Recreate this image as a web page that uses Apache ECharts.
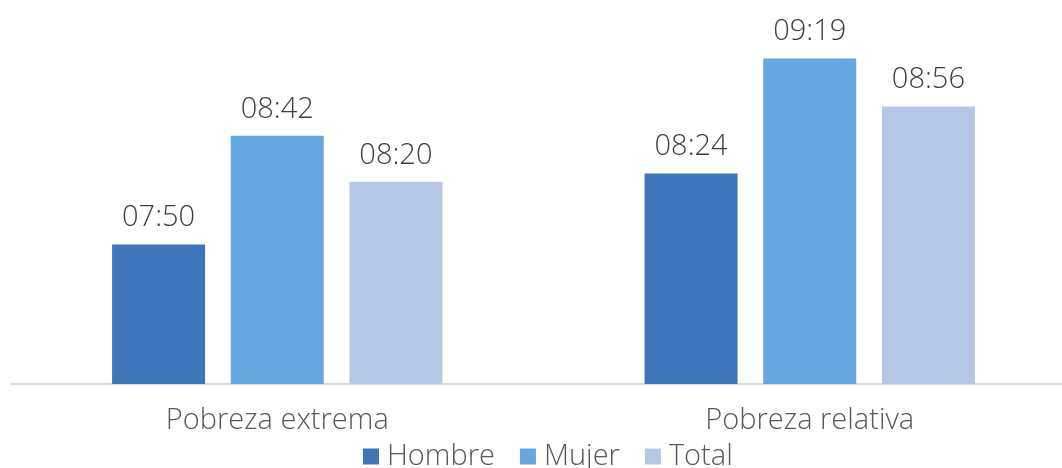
<!DOCTYPE html>
<html>
<head>
<meta charset="utf-8">
<script src="https://cdn.jsdelivr.net/npm/echarts@6/dist/echarts.min.js"></script>
<style>html,body{margin:0;padding:0;background:#fff}#c{width:1062px;height:468px}</style>
</head>
<body>
<div id="c"></div>
<script>
const categories = ['Pobreza extrema', 'Pobreza relativa'];
const seriesNames = ['Hombre', 'Mujer', 'Total'];
// durations in minutes (HH:MM)
const hombre = [470, 504];  // 07:50, 08:24
const mujer = [522, 559];   // 08:42, 09:19
const total = [500, 536];   // 08:20, 08:56
const colors = ['#3F76BA', '#66A7E1', '#B4C7E7'];

function fmt(m) {
  const h = Math.floor(m / 60), mm = Math.round(m - h * 60);
  return String(h).padStart(2, '0') + ':' + String(mm).padStart(2, '0');
}
const FONT = 'Open Sans';
const FS = 29;
const chart = echarts.init(document.getElementById('c'));
const mk = (name, data, i) => ({
  name, type: 'bar', data, barWidth: 93, barGap: '27.6%',
  itemStyle: { color: colors[i] },
  label: { show: true, position: 'top', distance: 12, color: '#404040', fontSize: FS, fontWeight: 300, fontFamily: FONT,
    formatter: p => fmt(p.value) }
});
chart.setOption({
  animation: false,
  textStyle: { fontFamily: FONT },
  grid: { left: 11, right: -14, top: 23, bottom: 84, containLabel: false, outerBoundsMode: 'none' },
  legend: {
    bottom: -8, left: 358, itemWidth: 16, itemHeight: 16, itemGap: 25,
    icon: 'rect', textStyle: { fontSize: FS, fontWeight: 300, color: '#595959', fontFamily: FONT, padding: [0, 0, 0, 3] },
    data: seriesNames
  },
  xAxis: {
    type: 'category', data: categories,
    axisLine: { lineStyle: { color: '#D9D9D9', width: 2 } },
    axisTick: { show: false },
    axisLabel: { fontSize: FS, fontWeight: 300, color: '#595959', margin: 22, fontFamily: FONT }
  },
  yAxis: {
    type: 'value', min: 403.2, max: 576, show: false, splitLine: { show: false }
  },
  series: [mk(seriesNames[0], hombre, 0), mk(seriesNames[1], mujer, 1), mk(seriesNames[2], total, 2)]
});
</script>
</body>
</html>
